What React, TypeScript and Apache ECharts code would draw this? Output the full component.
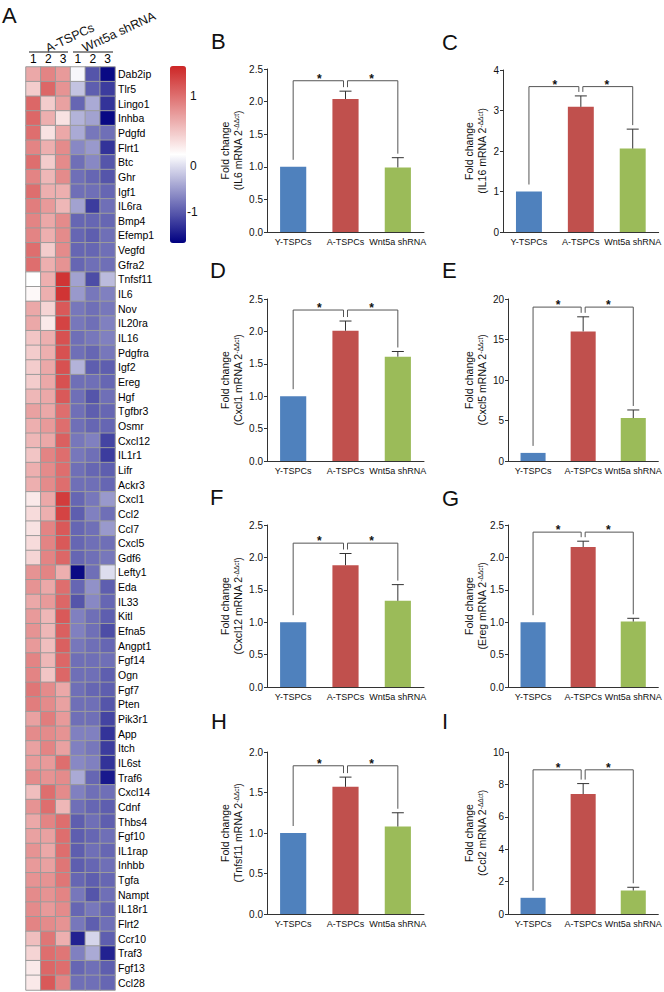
import React, { useEffect, useRef } from 'react';
import * as echarts from 'echarts';

// ---------------- DATA ----------------
const genes = ['Dab2ip','Tlr5','Lingo1','Inhba','Pdgfd','Flrt1','Btc','Ghr','Igf1','IL6ra','Bmp4','Efemp1','Vegfd','Gfra2','Tnfsf11','IL6','Nov','IL20ra','IL16','Pdgfra','Igf2','Ereg','Hgf','Tgfbr3','Osmr','Cxcl12','IL1r1','Lifr','Ackr3','Cxcl1','Ccl2','Ccl7','Cxcl5','Gdf6','Lefty1','Eda','IL33','Kitl','Efna5','Angpt1','Fgf14','Ogn','Fgf7','Pten','Pik3r1','App','Itch','IL6st','Traf6','Cxcl14','Cdnf','Thbs4','Fgf10','IL1rap','Inhbb','Tgfa','Nampt','IL18r1','Flrt2','Ccr10','Traf3','Fgf13','Ccl28'];
const heatColLabels = ['1','2','3','1','2','3'];
const heatGroups = ['A-TSPCs','Wnt5a shRNA'];
const heatValues: number[][] = [
  [0.6,0.85,0.7,-0.05,-1.0,-1.45],
  [0.35,1.05,0.75,-0.35,-0.95,-1.15],
  [1.05,0.35,0.65,-0.9,-0.5,-1.2],
  [1.05,0.55,0.2,-0.45,-0.55,-1.45],
  [1.0,0.2,0.6,-0.5,-0.8,-0.85],
  [0.85,0.55,0.8,-0.7,-0.6,-1.2],
  [1.0,0.35,0.8,-0.85,-0.7,-1.0],
  [0.85,0.5,0.8,-0.85,-0.9,-1.0],
  [1.0,0.55,0.55,-0.85,-0.85,-0.9],
  [0.9,0.7,0.5,-0.55,-1.15,-0.85],
  [0.85,0.6,0.8,-0.9,-0.9,-0.9],
  [0.85,0.55,0.8,-0.9,-0.95,-0.85],
  [1.0,0.35,0.8,-0.9,-0.9,-0.85],
  [1.0,0.55,0.75,-0.9,-0.85,-0.85],
  [0.0,0.55,1.4,-0.55,-1.05,-0.4],
  [0.05,0.55,1.4,-0.6,-0.8,-0.75],
  [0.6,0.3,1.15,-0.8,-0.85,-0.8],
  [0.6,0.15,1.3,-0.8,-0.85,-0.75],
  [0.4,0.55,1.2,-0.85,-0.8,-0.75],
  [0.35,0.55,1.2,-0.85,-0.9,-0.8],
  [0.35,0.6,1.2,-0.45,-0.95,-0.95],
  [0.35,0.6,1.2,-0.85,-0.85,-0.9],
  [0.5,0.6,1.15,-0.85,-1.0,-0.85],
  [0.65,0.6,1.0,-0.85,-0.95,-0.9],
  [0.55,0.7,1.0,-0.85,-0.9,-0.9],
  [0.5,0.6,1.1,-0.8,-0.75,-1.1],
  [0.4,0.85,1.0,-0.8,-0.85,-1.15],
  [0.55,0.8,1.0,-0.85,-0.9,-0.95],
  [0.55,0.8,1.0,-0.85,-0.85,-0.9],
  [0.15,0.6,1.35,-0.9,-0.8,-0.6],
  [0.25,0.55,1.3,-0.95,-0.75,-0.85],
  [0.2,0.85,1.15,-0.9,-0.85,-0.6],
  [0.25,0.85,1.15,-0.9,-0.85,-0.85],
  [0.3,0.85,1.05,-0.9,-0.85,-0.8],
  [0.75,0.85,0.55,-1.45,-0.85,-0.2],
  [0.75,0.6,1.0,-0.9,-0.65,-0.95],
  [0.6,0.7,1.05,-1.0,-0.7,-0.9],
  [0.7,0.5,1.15,-0.75,-0.85,-0.95],
  [0.75,0.5,1.1,-0.75,-0.85,-1.05],
  [0.7,0.45,1.1,-0.8,-0.85,-0.9],
  [0.85,0.5,1.05,-0.85,-0.85,-0.85],
  [0.85,0.4,1.05,-0.85,-0.85,-0.95],
  [0.95,0.8,0.6,-0.85,-0.9,-0.95],
  [0.9,0.8,0.65,-0.85,-0.85,-1.0],
  [0.65,0.9,0.7,-0.85,-0.85,-1.1],
  [0.8,0.8,0.75,-0.75,-0.75,-1.2],
  [0.65,0.85,0.65,-0.75,-0.8,-1.15],
  [0.7,0.7,1.0,-0.7,-0.75,-1.2],
  [0.8,0.75,0.8,-0.5,-0.9,-1.35],
  [0.45,1.0,0.8,-0.75,-0.85,-0.85],
  [0.75,1.0,0.5,-0.85,-0.9,-0.95],
  [0.6,0.85,1.0,-0.95,-0.85,-0.95],
  [0.65,0.65,1.0,-0.95,-0.9,-0.85],
  [0.75,0.6,1.0,-0.95,-0.85,-0.9],
  [0.7,0.65,0.95,-0.95,-0.9,-0.85],
  [0.75,0.75,0.95,-0.9,-0.95,-0.9],
  [0.8,0.75,0.85,-0.8,-1.0,-0.85],
  [0.8,0.7,0.8,-0.9,-0.8,-0.9],
  [0.85,0.8,0.75,-0.8,-0.95,-0.85],
  [0.45,0.95,0.55,-1.3,-0.25,-0.95],
  [0.3,1.0,0.95,-0.75,-0.5,-1.3],
  [0.15,1.05,1.0,-0.9,-0.85,-0.95],
  [0.15,1.15,0.85,-0.85,-0.85,-0.9],
];
const colorBarTicks = ['1', '0', '-1'];
const heatMin = -1.5;
const heatMax = 1.5;

const groups = ['Y-TSPCs', 'A-TSPCs', 'Wnt5a shRNA'];
const panelLetters = ['B', 'C', 'D', 'E', 'F', 'G', 'H', 'I'];
const panelGenes = ['IL6', 'IL16', 'Cxcl1', 'Cxcl5', 'Cxcl12', 'Ereg', 'Tnfsf11', 'Ccl2'];
const foldMeans = [
  [1, 2.04, 0.99],
  [1, 3.09, 2.06],
  [1, 2.01, 1.61],
  [1, 16.0, 5.3],
  [1, 1.88, 1.33],
  [1, 2.16, 1.01],
  [1, 1.57, 1.08],
  [1, 7.4, 1.45],
];
const foldErrs = [
  [0, 0.12, 0.15],
  [0, 0.27, 0.48],
  [0, 0.15, 0.08],
  [0, 1.8, 1.0],
  [0, 0.18, 0.25],
  [0, 0.09, 0.05],
  [0, 0.12, 0.17],
  [0, 0.65, 0.2],
];
const bracketLevels = [2.32, 3.59, 2.33, 19.0, 2.22, 2.39, 1.83, 8.9];
const yMaxes = [2.5, 4, 2.5, 20, 2.5, 2.5, 2.0, 10];
const yIntervals = [0.5, 1, 0.5, 5, 0.5, 0.5, 0.5, 2];
const sigMark = '*';

// ---------------- LAYOUT / STYLE ----------------
const FONT = '"Liberation Sans", Arial, Helvetica, sans-serif';
const barColors = ['#4f81bd', '#c0504d', '#9bbb59'];
const panelBoxes = [
  { left: 267, top: 69, width: 157, height: 163 },
  { left: 503, top: 70, width: 157, height: 162 },
  { left: 267, top: 299, width: 157, height: 162 },
  { left: 508, top: 299, width: 155, height: 162 },
  { left: 267, top: 525, width: 157, height: 162 },
  { left: 508, top: 525, width: 155, height: 162 },
  { left: 267, top: 752, width: 157, height: 162 },
  { left: 508, top: 752, width: 155, height: 162 },
];
const letterPos = [
  [211, 41], [442, 42], [210, 270], [442, 270], [210, 497], [442, 498], [211, 721], [442, 721],
];
const heatBox = { left: 26, top: 67, width: 89, height: 923 };
const cbBox = { left: 170, top: 66, width: 16, height: 177 };
const cbLabelY = [96, 166, 212];

export default function App() {
  const ref = useRef<HTMLDivElement>(null);
  useEffect(() => {
    if (!ref.current) return;
    const chart = echarts.init(ref.current, undefined, { renderer: 'svg' });

    const grids: any[] = [{ ...heatBox }];
    const xAxes: any[] = [
      {
        gridIndex: 0, type: 'category', position: 'top',
        data: heatColLabels.map((_, i) => 'c' + i),
        axisLine: { show: false }, axisTick: { show: false },
        axisLabel: { formatter: (_v: string, i: number) => heatColLabels[i], fontSize: 12, color: '#000', fontFamily: FONT, margin: 2 },
      },
    ];
    const yAxes: any[] = [
      {
        gridIndex: 0, type: 'category', position: 'right', inverse: true, data: genes,
        axisLine: { show: false }, axisTick: { show: false },
        axisLabel: { fontSize: 10.5, color: '#000', fontFamily: FONT, margin: 3, interval: 0 },
      },
    ];
    const series: any[] = [
      {
        type: 'heatmap', xAxisIndex: 0, yAxisIndex: 0,
        data: heatValues.flatMap((row, r) => row.map((v, c) => [c, r, v])),
        itemStyle: { borderColor: '#9c9c9c', borderWidth: 1 },
        emphasis: { disabled: true },
      },
    ];
    const graphics: any[] = [];

    panelBoxes.forEach((box, i) => {
      const gi = i + 1;
      grids.push({ ...box });
      xAxes.push({
        gridIndex: gi, type: 'category', data: groups,
        axisLine: { lineStyle: { color: '#333', width: 1 } },
        axisTick: { alignWithLabel: true, length: 3, lineStyle: { color: '#333' } },
        axisLabel: { fontSize: 9, color: '#111', fontFamily: FONT, margin: 5, interval: 0 },
      });
      const step = yIntervals[i];
      yAxes.push({
        gridIndex: gi, type: 'value', min: 0, max: yMaxes[i], interval: step,
        splitLine: { show: false },
        axisLine: { show: true, lineStyle: { color: '#333', width: 1 } },
        axisTick: { show: true, length: 3, lineStyle: { color: '#333' } },
        axisLabel: {
          fontSize: 10, color: '#111', fontFamily: FONT, margin: 4,
          formatter: (v: number) => (step < 1 ? v.toFixed(1) : String(v)),
        },
      });
      const means = foldMeans[i];
      const errs = foldErrs[i];
      series.push({
        type: 'bar', xAxisIndex: gi, yAxisIndex: gi, barWidth: '50%',
        data: means.map((v, k) => ({ value: v, itemStyle: { color: barColors[k] } })),
        emphasis: { disabled: true },
      });
      series.push({
        type: 'custom', xAxisIndex: gi, yAxisIndex: gi, z: 3,
        data: means.map((v, k) => [k, v, errs[k]]),
        renderItem: (_p: any, api: any) => {
          const k = api.value(0), m = api.value(1), e = api.value(2);
          if (!e) return { type: 'group', children: [] };
          const a = api.coord([k, m]);
          const b = api.coord([k, m + e]);
          return {
            type: 'group',
            children: [
              { type: 'line', shape: { x1: a[0], y1: a[1], x2: b[0], y2: b[1] }, style: { stroke: '#333', lineWidth: 1 } },
              { type: 'line', shape: { x1: b[0] - 6, y1: b[1], x2: b[0] + 6, y2: b[1] }, style: { stroke: '#333', lineWidth: 1 } },
            ],
          };
        },
      });
      const level = bracketLevels[i];
      series.push({
        type: 'custom', xAxisIndex: gi, yAxisIndex: gi, z: 4,
        data: [[1, level]],
        renderItem: (_p: any, api: any) => {
          const lv = api.value(1);
          const yL = api.coord([0, lv])[1];
          const p0 = api.coord([0, means[0] + errs[0]]);
          const p1 = api.coord([1, means[1] + errs[1]]);
          const p2 = api.coord([2, means[2] + errs[2]]);
          const st = { stroke: '#555', lineWidth: 1, fill: null };
          const sx = { fill: '#111', fontSize: 12, fontWeight: 'bold', fontFamily: FONT, align: 'center', verticalAlign: 'middle' };
          return {
            type: 'group',
            children: [
              { type: 'polyline', shape: { points: [[p0[0], p0[1] - 7], [p0[0], yL], [p1[0] - 2, yL], [p1[0] - 2, p1[1] - 4]] }, style: st },
              { type: 'polyline', shape: { points: [[p1[0] + 2, p1[1] - 4], [p1[0] + 2, yL], [p2[0], yL], [p2[0], p2[1] - 4]] }, style: st },
              { type: 'text', x: (p0[0] + p1[0]) / 2, y: yL - 2, style: { text: sigMark, ...sx } },
              { type: 'text', x: (p1[0] + p2[0]) / 2, y: yL - 2, style: { text: sigMark, ...sx } },
            ],
          };
        },
      });
      // panel letter
      graphics.push({
        type: 'text', x: letterPos[i][0], y: letterPos[i][1],
        style: { text: panelLetters[i], fontSize: 22, fontFamily: FONT, fill: '#111', align: 'left', verticalAlign: 'middle' },
      });
      // y titles
      const cy = box.top + box.height / 2;
      const tx = box.left < 400 ? 225 : 469;
      graphics.push({
        type: 'text', x: tx, y: cy, rotation: Math.PI / 2,
        style: { text: 'Fold change', fontSize: 10.5, fontFamily: FONT, fill: '#111', align: 'center', verticalAlign: 'middle' },
      });
      graphics.push({
        type: 'text', x: tx + 13, y: cy, rotation: Math.PI / 2,
        style: {
          text: '(' + panelGenes[i] + ' mRNA 2{s|-ΔΔct})',
          fontSize: 10.5, fontFamily: FONT, fill: '#111', align: 'center', verticalAlign: 'middle',
          rich: { s: { fontSize: 6.5, fontFamily: FONT, fill: '#111', verticalAlign: 'top', padding: [0, 0, 4, 0] } },
        },
      });
    });

    // heatmap header
    graphics.push({
      type: 'text', x: 2, y: 15,
      style: { text: 'A', fontSize: 22, fontFamily: FONT, fill: '#111', align: 'left', verticalAlign: 'middle' },
    });
    graphics.push({
      type: 'text', x: 70, y: 38, rotation: (25 * Math.PI) / 180,
      style: { text: heatGroups[0], fontSize: 12.5, fontFamily: FONT, fill: '#111', align: 'center', verticalAlign: 'middle' },
    });
    graphics.push({
      type: 'text', x: 119, y: 32, rotation: (25 * Math.PI) / 180,
      style: { text: heatGroups[1], fontSize: 12.5, fontFamily: FONT, fill: '#111', align: 'center', verticalAlign: 'middle' },
    });
    graphics.push({ type: 'line', shape: { x1: 29, y1: 52, x2: 68, y2: 52 }, style: { stroke: '#666', lineWidth: 1.5 } });
    graphics.push({ type: 'line', shape: { x1: 73, y1: 52, x2: 113, y2: 52 }, style: { stroke: '#666', lineWidth: 1.5 } });
    colorBarTicks.forEach((t, k) => {
      graphics.push({
        type: 'text', x: t.length > 1 ? cbBox.left + cbBox.width + 1 : cbBox.left + cbBox.width + 4, y: cbLabelY[k],
        style: { text: t, fontSize: 12, fontFamily: FONT, fill: '#111', align: 'left', verticalAlign: 'middle' },
      });
    });

    chart.setOption({
      animation: false,
      backgroundColor: '#ffffff',
      grid: grids,
      xAxis: xAxes,
      yAxis: yAxes,
      visualMap: {
        type: 'continuous', seriesIndex: 0, min: heatMin, max: heatMax,
        inRange: { color: ['#000080', '#ffffff', '#CD2626'] },
        left: cbBox.left, top: cbBox.top, itemWidth: cbBox.width, itemHeight: cbBox.height,
        calculable: false, padding: 0, orient: 'vertical', hoverLink: false,
      },
      series,
      graphic: graphics,
    });
    return () => chart.dispose();
  }, []);
  return <div ref={ref} style={{ position: 'absolute', left: 0, top: 0, width: 664, height: 992 }} />;
}
